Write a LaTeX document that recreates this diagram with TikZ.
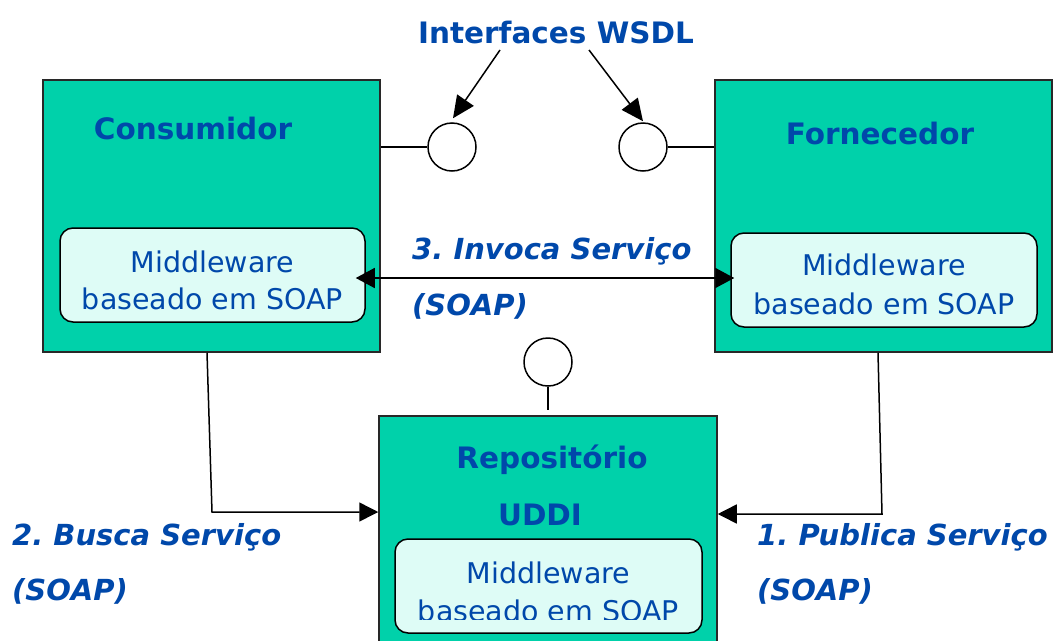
\documentclass[tikz,border=0pt]{standalone}
\usepackage{fontspec}
\setmainfont{DejaVu Sans}
\usetikzlibrary{arrows.meta}
\frenchspacing
\definecolor{teal1}{RGB}{0,209,170}
\definecolor{mwfill}{RGB}{222,252,246}
\definecolor{txtblue}{RGB}{0,72,170}
\definecolor{edge}{RGB}{40,40,40}
\tikzset{
  bigbox/.style={draw=edge, line width=1.5pt, fill=teal1, inner sep=0pt},
  mwbox/.style={draw=black, line width=1.5pt, fill=mwfill, rounded corners=13pt, inner sep=0pt},
  iface/.style={circle, draw=black, line width=1.5pt, fill=white, minimum size=48pt, inner sep=0pt},
  title/.style={text=txtblue, font=\bfseries\fontsize{29.5}{35}\selectfont, inner sep=0pt},
  mwtext/.style={text=txtblue, font=\fontsize{28.5}{34}\selectfont, inner sep=0pt},
  steplabel/.style={text=txtblue, font=\bfseries\itshape\fontsize{29}{35}\selectfont, inner sep=0pt, anchor=base west},
  conn/.style={draw=black, line width=1.5pt},
  tipA/.style={-{Triangle[length=19pt,width=19pt]}},
}
\begin{document}
\begin{tikzpicture}[x=1pt,y=-1pt]
\useasboundingbox (0,0) rectangle (1054,640);
\clip (0,0) rectangle (1054,640);
% boxes
\node[bigbox, minimum width=337pt, minimum height=272pt] (cons) at (211.5,216) {};
\node[bigbox, minimum width=337pt, minimum height=272pt] (forn) at (883.5,216) {};
\node[bigbox, minimum width=338pt, minimum height=250pt] (repo) at (548,541) {};
\node[mwbox, minimum width=305pt, minimum height=94pt] (mw1) at (212.5,275) {};
\node[mwbox, minimum width=306pt, minimum height=94pt] (mw2) at (884,280) {};
\node[mwbox, minimum width=307pt, minimum height=94pt] (mw3) at (548.5,586) {};
% titles
\node[title, anchor=base] (tcons) at (193,139) {Consumidor};
\node[title, anchor=base] (tforn) at (880,144) {Fornecedor};
\node[title, anchor=base] (trepo) at (552,468) {Repositório};
\node[title, anchor=base] (tuddi) at (540,525) {UDDI};
\node[title, anchor=base] (wsdl) at (556,43) {Interfaces WSDL};
% middleware texts
\node[mwtext, anchor=base] (m1a) at (212.5,272) {Middleware};
\node[mwtext, anchor=base] (m1b) at (212.5,309) {baseado em SOAP};
\node[mwtext, anchor=base] (m2a) at (884,275) {Middleware};
\node[mwtext, anchor=base] (m2b) at (884,314) {baseado em SOAP};
\node[mwtext, anchor=base] (m3a) at (548.5,583) {Middleware};
\begin{scope}
\clip (390,590) rectangle (710,619);
\node[mwtext, anchor=base] (m3b) at (548.5,621) {baseado em SOAP};
\end{scope}
% interface circles
\node[iface] (c1) at (452,147) {};
\node[iface] (c2) at (643,147) {};
\node[iface] (c3) at (548,362) {};
\draw[conn] (c1.west -| cons.east) -- (c1.west);
\draw[conn] (c2.east) -- (c2.east -| forn.west);
\draw[conn] (c3.south) -- ([yshift=5pt]repo.north);
% WSDL arrows
\coordinate (w1) at (500,50);
\coordinate (w2) at (589,50);
\draw[conn, -{Triangle[length=22pt,width=20pt]}] (w1) -- ([yshift=4pt,xshift=1pt]c1.north);
\draw[conn, -{Triangle[length=22pt,width=20pt]}] (w2) -- ([yshift=1pt]c2.north);
% invoca
\coordinate (inv) at (0,278);
\draw[conn, {Triangle[length=19pt,width=20pt]}-{Triangle[length=19pt,width=20pt]}, shorten <=-10pt, shorten >=-4pt] (mw1.east |- inv) -- (mw2.west |- inv);
% busca
\coordinate (b1) at (212,512);
\draw[conn, tipA] ([xshift=-4.5pt]cons.south) -- (b1) -- (b1 -| repo.west);
% publica
\coordinate (p1) at (882,514);
\draw[conn, tipA] ([xshift=-5.5pt]forn.south) -- (p1) -- (p1 -| repo.east);
% step labels
\node[steplabel] (l3a) at (412,259) {3. Invoca Serviço};
\node[steplabel] (l3b) at (412,315) {(SOAP)};
\node[steplabel] (l2a) at (12,545) {2. Busca Serviço};
\node[steplabel] (l2b) at (12,600) {(SOAP)};
\node[steplabel] (l1a) at (757,545) {1. Publica Serviço};
\node[steplabel] (l1b) at (757,600) {(SOAP)};
\end{tikzpicture}
\end{document}
